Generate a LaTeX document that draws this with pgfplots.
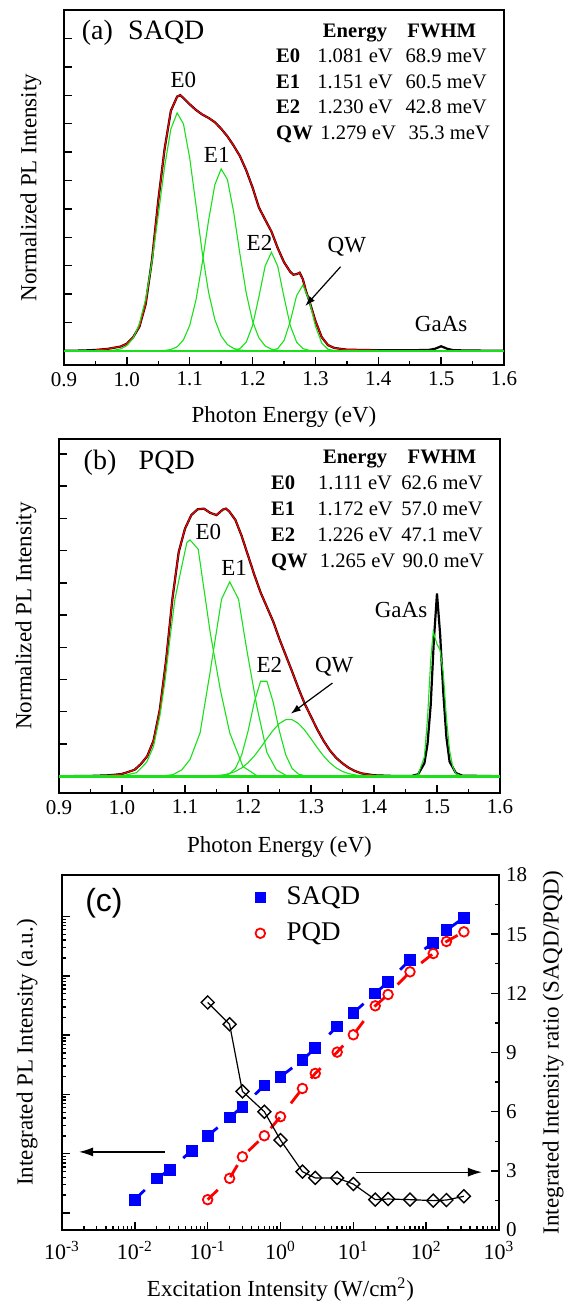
\documentclass[border=0pt]{standalone}
\usepackage{pgfplots}
\pgfplotsset{compat=1.18}
\usepackage{pgfplotstable}
\usepackage{fontspec}
\setmainfont{Liberation Serif}
\newfontfamily\arialfont{Liberation Sans}
\usetikzlibrary{arrows.meta}
\definecolor{fitgreen}{RGB}{25,225,25}

% measured PL spectra (black), the fit (red) reuses the same points
\pgfplotstableread{
x y
0.90 0.00
0.93 0.01
0.95 0.03
0.97 0.07
0.99 0.15
1.00 0.25
1.01 0.48
1.02 0.85
1.03 1.65
1.04 3.20
1.05 5.30
1.06 7.10
1.07 8.45
1.08 8.95
1.085 9.00
1.09 8.90
1.10 8.68
1.11 8.48
1.12 8.32
1.13 8.20
1.14 8.05
1.15 7.82
1.16 7.55
1.17 7.22
1.18 6.85
1.19 6.35
1.20 5.75
1.21 5.05
1.22 4.62
1.23 4.20
1.24 3.62
1.25 3.12
1.26 2.78
1.265 2.68
1.27 2.70
1.275 2.75
1.28 2.52
1.285 2.10
1.29 1.78
1.30 1.05
1.31 0.48
1.32 0.20
1.33 0.10
1.35 0.04
1.40 0.02
1.45 0.02
1.48 0.03
1.49 0.07
1.50 0.16
1.51 0.07
1.52 0.02
1.55 0.01
1.60 0.00
}\specA

\pgfplotstableread{
x y
0.90 0.00
0.95 0.01
0.98 0.03
1.00 0.07
1.02 0.20
1.03 0.38
1.04 0.62
1.05 1.10
1.06 2.06
1.07 3.60
1.08 5.50
1.09 6.95
1.10 7.68
1.11 8.10
1.12 8.28
1.13 8.30
1.14 8.17
1.15 8.10
1.16 8.27
1.165 8.30
1.17 8.22
1.18 7.95
1.19 7.45
1.20 6.85
1.21 6.25
1.22 5.70
1.23 5.25
1.24 4.80
1.25 4.25
1.26 3.75
1.27 3.25
1.28 2.73
1.29 2.25
1.30 1.85
1.31 1.45
1.32 1.10
1.33 0.80
1.34 0.57
1.35 0.40
1.36 0.26
1.37 0.16
1.38 0.09
1.40 0.03
1.43 0.01
1.46 0.01
1.47 0.06
1.48 0.40
1.485 1.00
1.49 2.20
1.495 4.20
1.50 5.67
1.505 4.40
1.51 2.60
1.515 1.20
1.52 0.45
1.53 0.10
1.54 0.02
1.60 0.00
}\specB

% integrated intensities (c)
\pgfplotstableread{
x y
0.01 1.679
0.02 3.837
0.03 5.309
0.06 11.22
0.1 19.86
0.2 40.93
0.3 61.94
0.6 141.9
1 198.6
2 379.3
3 602.6
6 1400
10 2377
20 5035
30 7925
60 18620
125 36310
190 58880
330 95500
}\saqd

\pgfplotstableread{
x y
0.1 1.679
0.2 3.837
0.3 8.89
0.6 20.09
1 42.07
2 125.9
3 225.9
6 516.4
10 1014
20 3119
30 4842
60 11670
125 23770
190 37930
330 55210
}\pqd

\pgfplotstableread{
x y
0.1 11.54
0.2 10.43
0.3 7.03
0.6 6.00
1 4.56
2 2.96
3 2.64
6 2.64
10 2.33
20 1.54
30 1.57
60 1.54
125 1.49
190 1.52
330 1.71
}\ratio

\tikzset{
  expline/.style={black, line width=1.1pt},
  fitline/.style={red, line width=0.6pt},
  comp/.style={fitgreen, line width=0.55pt},
  tab/.style={font=\fontsize{10.3}{12}\selectfont, text height=7.2pt, text depth=2pt, inner sep=0pt},
  tabb/.style={tab, font=\fontsize{10.3}{12}\selectfont\bfseries},
  peak/.style={font=\fontsize{11.5}{13}\selectfont},
}

\pgfplotsset{
  spec/.style={
    scale only axis,
    xmin=0.9, xmax=1.6,
    xtick={0.9,1.0,1.1,1.2,1.3,1.4,1.5,1.6},
    minor x tick num=1,
    yticklabels={},
    xtick pos=bottom, ytick pos=left,
    tick align=inside,
    major tick length=4pt, minor tick length=2.2pt,
    every tick/.style={black, line width=0.7pt},
    axis line style={line width=0.9pt},
    tick label style={font=\fontsize{10.5}{12}\selectfont},
    label style={font=\fontsize{11.5}{13}\selectfont},
    x tick label style={/pgf/number format/.cd, fixed, fixed zerofill, precision=1, assume math mode=true},
    xlabel={Photon Energy (eV)},
    ylabel={Normalized PL Intensity},
    ylabel style={at={(axis description cs:-0.075,0.5)}, anchor=center},
  },
}

\begin{document}
\begin{tikzpicture}
\useasboundingbox (0,0) rectangle (285pt,-651.5pt);

% ---------------- (a) SAQD ----------------
\begin{axis}[spec, at={(32pt,-5pt)}, anchor=north west,
  width=220pt, height=177.5pt,
  ymin=-0.5, ymax=12, ytick={0,...,11},
  xlabel style={at={(axis description cs:0.5,-0.146)}, anchor=center}]
\addplot[expline] table {\specA};
\addplot[fitline, restrict x to domain=0.95:1.42] table {\specA};
% E0
\addplot[comp] coordinates {(0.95,0) (0.97,0.006) (0.98,0.022) (0.99,0.067) (1.00,0.182) (1.01,0.441) (1.02,0.954) (1.03,1.835) (1.04,3.140) (1.05,4.781) (1.06,6.478) (1.07,7.808) (1.08,8.375) (1.09,7.993) (1.10,6.787) (1.11,5.128) (1.12,3.448) (1.13,2.062) (1.14,1.098) (1.15,0.520) (1.16,0.219) (1.17,0.082) (1.18,0.027) (1.19,0.008) (1.21,0)};
% E1
\addplot[comp] coordinates {(1.03,0) (1.05,0.003) (1.06,0.012) (1.07,0.045) (1.08,0.141) (1.09,0.383) (1.10,0.894) (1.11,1.794) (1.12,3.095) (1.13,4.590) (1.14,5.849) (1.15,6.405) (1.16,6.029) (1.17,4.876) (1.18,3.390) (1.19,2.025) (1.20,1.040) (1.21,0.459) (1.22,0.174) (1.23,0.057) (1.24,0.016) (1.25,0.004) (1.27,0)};
% E2
\addplot[comp] coordinates {(1.14,0) (1.16,0.002) (1.17,0.015) (1.18,0.079) (1.19,0.308) (1.20,0.889) (1.21,1.895) (1.22,2.983) (1.23,3.470) (1.24,2.983) (1.25,1.895) (1.26,0.889) (1.27,0.308) (1.28,0.079) (1.29,0.015) (1.30,0.002) (1.32,0)};
% QW
\addplot[comp] coordinates {(1.20,0) (1.22,0.001) (1.23,0.011) (1.24,0.079) (1.25,0.357) (1.26,1.039) (1.27,1.937) (1.28,2.315) (1.29,1.773) (1.30,0.870) (1.31,0.274) (1.32,0.055) (1.33,0.007) (1.35,0)};
\addplot[fitgreen, line width=1.3pt] coordinates {(0.9,0) (1.6,0)};

\node[anchor=west, font=\fontsize{14}{16}\selectfont] at (axis cs:0.917,11.19) {(a)\hspace{0.55em}SAQD};
\node[tabb] at (axis cs:1.363,11.23) {Energy};
\node[tabb] at (axis cs:1.501,11.23) {FWHM};
\node[tabb, anchor=west] at (axis cs:1.237,10.345) {E0};
\node[tab] at (axis cs:1.363,10.345) {1.081 eV};
\node[tab] at (axis cs:1.508,10.345) {68.9 meV};
\node[tabb, anchor=west] at (axis cs:1.237,9.43) {E1};
\node[tab] at (axis cs:1.363,9.43) {1.151 eV};
\node[tab] at (axis cs:1.508,9.43) {60.5 meV};
\node[tabb, anchor=west] at (axis cs:1.237,8.55) {E2};
\node[tab] at (axis cs:1.363,8.55) {1.230 eV};
\node[tab] at (axis cs:1.508,8.55) {42.8 meV};
\node[tabb, anchor=west] at (axis cs:1.237,7.63) {QW};
\node[tab] at (axis cs:1.368,7.63) {1.279 eV};
\node[tab] at (axis cs:1.513,7.63) {35.3 meV};

\node[peak] at (axis cs:1.09,9.55) {E0};
\node[peak] at (axis cs:1.143,6.9) {E1};
\node[peak] at (axis cs:1.211,3.79) {E2};
\node[peak] at (axis cs:1.35,3.65) {QW};
\node[peak] at (axis cs:1.50,0.96) {GaAs};
\draw[-{Latex[length=5pt,width=3.5pt]}, line width=0.6pt] (axis cs:1.34,2.96) -- (axis cs:1.284,1.58);
\end{axis}

% ---------------- (b) PQD ----------------
\begin{axis}[spec, at={(29.5pt,-219.5pt)}, anchor=north west,
  width=220.5pt, height=177pt,
  ymin=-0.52, ymax=10.46, ytick={0,...,10},
  xlabel style={at={(axis description cs:0.5,-0.153)}, anchor=center}]
\addplot[expline] table {\specB};
\addplot[fitline, restrict x to domain=0.95:1.44] table {\specB};
% E0
\addplot[comp] coordinates {(0.997,0) (1.023,0.11) (1.039,0.43) (1.050,0.92) (1.060,1.86) (1.068,2.91) (1.076,4.25) (1.084,5.49) (1.095,6.52) (1.103,7.25) (1.108,7.33) (1.121,7.04) (1.140,4.46) (1.156,2.69) (1.171,1.35) (1.192,0.30) (1.214,0.02) (1.24,0)};
% E1
\addplot[comp] coordinates {(1.06,0) (1.081,0.05) (1.095,0.20) (1.108,0.52) (1.124,1.35) (1.140,3.25) (1.158,5.49) (1.171,6.03) (1.185,5.49) (1.198,3.93) (1.214,2.17) (1.230,0.74) (1.245,0.20) (1.26,0.03) (1.28,0)};
% E2
\addplot[comp] coordinates {(1.13,0) (1.15,0.003) (1.16,0.015) (1.17,0.069) (1.18,0.242) (1.19,0.658) (1.20,1.392) (1.21,2.295) (1.22,2.946) (1.23,2.946) (1.24,2.295) (1.25,1.392) (1.26,0.658) (1.27,0.242) (1.28,0.069) (1.29,0.015) (1.30,0.003) (1.32,0)};
% QW
\addplot[comp] coordinates {(1.10,0) (1.12,0.001) (1.14,0.008) (1.15,0.019) (1.16,0.041) (1.17,0.081) (1.18,0.149) (1.19,0.258) (1.20,0.417) (1.21,0.628) (1.22,0.885) (1.23,1.164) (1.24,1.429) (1.25,1.639) (1.26,1.755) (1.27,1.755) (1.28,1.639) (1.29,1.429) (1.30,1.164) (1.31,0.885) (1.32,0.628) (1.33,0.417) (1.34,0.258) (1.35,0.149) (1.36,0.081) (1.37,0.041) (1.38,0.019) (1.39,0.008) (1.41,0.001) (1.43,0)};
% GaAs
\addplot[comp] coordinates {(1.46,0) (1.47,0.05) (1.48,0.60) (1.485,1.80) (1.49,3.60) (1.494,4.48) (1.50,4.10) (1.505,3.90) (1.51,3.20) (1.515,1.80) (1.52,0.80) (1.525,0.30) (1.53,0.08) (1.54,0)};
\addplot[fitgreen, line width=1.3pt] coordinates {(0.9,0) (1.6,0)};

\node[anchor=west, font=\fontsize{14}{16}\selectfont] at (axis cs:0.928,9.71) {(b)\hspace{0.8em}PQD};
\node[tabb] at (axis cs:1.370,9.87) {Energy};
\node[tabb] at (axis cs:1.508,9.87) {FWHM};
\node[tabb, anchor=west] at (axis cs:1.236,9.06) {E0};
\node[tab] at (axis cs:1.370,9.06) {1.111 eV};
\node[tab] at (axis cs:1.508,9.06) {62.6 meV};
\node[tabb, anchor=west] at (axis cs:1.236,8.26) {E1};
\node[tab] at (axis cs:1.370,8.26) {1.172 eV};
\node[tab] at (axis cs:1.508,8.26) {57.0 meV};
\node[tabb, anchor=west] at (axis cs:1.236,7.45) {E2};
\node[tab] at (axis cs:1.370,7.45) {1.226 eV};
\node[tab] at (axis cs:1.508,7.45) {47.1 meV};
\node[tabb, anchor=west] at (axis cs:1.236,6.64) {QW};
\node[tab] at (axis cs:1.374,6.64) {1.265 eV};
\node[tab] at (axis cs:1.510,6.64) {90.0 meV};

\node[peak] at (axis cs:1.137,7.58) {E0};
\node[peak] at (axis cs:1.178,6.47) {E1};
\node[peak] at (axis cs:1.234,3.45) {E2};
\node[peak] at (axis cs:1.337,3.40) {QW};
\node[peak] at (axis cs:1.443,5.15) {GaAs};
\draw[-{Latex[length=5pt,width=3.5pt]}, line width=0.6pt] (axis cs:1.334,2.89) -- (axis cs:1.268,1.94);
\end{axis}

% ---------------- (c) integrated intensity ----------------
\begin{axis}[at={(31pt,-437.5pt)}, anchor=north west,
  scale only axis, width=218.5pt, height=177.5pt,
  xmode=log, ymode=log,
  xmin=1e-3, xmax=1e3, ymin=0.5164, ymax=501187,
  xtick={1e-3,1e-2,1e-1,1,10,100,1000},
  xticklabels={10\textsuperscript{-3},10\textsuperscript{-2},10\textsuperscript{-1},10\textsuperscript{0},10\textsuperscript{1},10\textsuperscript{2},10\textsuperscript{3}},
  ytick={1,10,100,1000,10000,100000},
  yticklabels={},
  xtick pos=bottom, ytick pos=left, tick align=inside,
  major tick length=4pt, minor tick length=2.2pt,
  every tick/.style={black, line width=0.7pt},
  axis line style={line width=0.9pt},
  tick label style={font=\fontsize{11}{13}\selectfont},
  x tick label style={yshift=-2pt},
  label style={font=\fontsize{11.5}{13}\selectfont},
  xlabel={Excitation Intensity (W/cm\textsuperscript{2})},
  ylabel={Integrated PL Intensity (a.u.)},
  xlabel style={at={(axis description cs:0.5,-0.168)}, anchor=center},
  ylabel style={at={(axis description cs:-0.080,0.5)}, anchor=center},
  legend style={at={(rel axis cs:0.42,0.99)}, anchor=north west, draw=none, fill=none,
    font=\fontsize{13.5}{15}\selectfont, row sep=3.5pt},
  legend cell align=left,
  legend image code/.code={\path (0pt,0pt) (15pt,0pt); \draw[#1] plot coordinates {(4pt,0pt)};},
]
\addplot[blue, line width=1.4pt, dash pattern=on 7pt off 9pt, forget plot] table {\saqd};
\addplot[red, line width=1.4pt, dash pattern=on 7pt off 9pt, forget plot] table {\pqd};
\addplot[only marks, mark=square*, mark size=2.7pt, color=blue] table {\saqd};
\addlegendentry{SAQD}
\addplot[only marks, mark=o, mark size=2.4pt, color=red, mark options={line width=0.9pt, fill=white}] table {\pqd};
\addlegendentry{PQD}

\node[font=\arialfont\fontsize{16}{18}\selectfont] at (rel axis cs:0.096,0.921) {(c)};
\draw[-{Latex[length=7pt,width=4.5pt]}, line width=0.6pt] (rel axis cs:0.235,0.220) -- (rel axis cs:0.039,0.220);
\draw[-{Latex[length=7pt,width=4.5pt]}, line width=0.6pt] (rel axis cs:0.673,0.163) -- (rel axis cs:0.961,0.163);
\end{axis}

\begin{axis}[at={(31pt,-437.5pt)}, anchor=north west,
  scale only axis, width=218.5pt, height=177.5pt,
  xmode=log, xmin=1e-3, xmax=1e3,
  hide x axis,
  axis y line*=right,
  ymin=0, ymax=18, ytick={0,3,...,18}, minor y tick num=1,
  tick align=inside,
  major tick length=4pt, minor tick length=2.2pt,
  every tick/.style={black, line width=0.7pt},
  axis line style={line width=0.9pt},
  tick label style={font=\fontsize{10.5}{12}\selectfont},
  y tick label style={/pgf/number format/assume math mode=true},
  label style={font=\fontsize{11.5}{13}\selectfont},
  ylabel={Integrated Intensity ratio (SAQD/PQD)},
  ylabel style={at={(axis description cs:1.124,0.5)}, anchor=center},
]
\addplot[black, line width=0.6pt, mark=square, mark size=2.3pt,
  mark options={rotate=45, fill=white, line width=0.7pt, solid}] table {\ratio};
\end{axis}
\end{tikzpicture}
\end{document}
